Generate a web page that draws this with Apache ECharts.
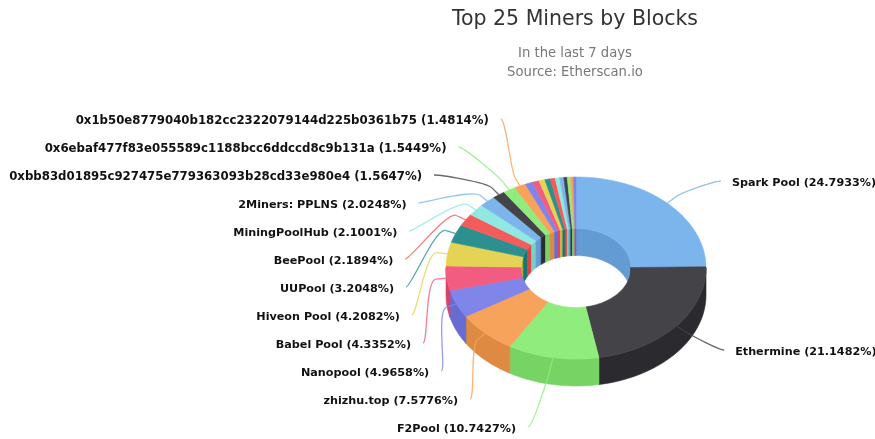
<!DOCTYPE html>
<html><head><meta charset="utf-8">
<style>html,body{margin:0;padding:0;background:#fff}#c{width:875px;height:439px;filter:blur(0.5px)}</style>
<script src="https://cdn.jsdelivr.net/npm/echarts@6/dist/echarts.min.js"></script>
</head><body><div id="c"></div>
<script>
const minerNames = ['Spark Pool','Ethermine','F2Pool','zhizhu.top','Nanopool','Babel Pool','Hiveon Pool','UUPool','BeePool','MiningPoolHub','2Miners: PPLNS','0xbb83d01895c927475e779363093b28cd33e980e4','0x6ebaf477f83e055589c1188bcc6ddccd8c9b131a','0x1b50e8779040b182cc2322079144d225b0361b75','','','','','','','','','','',''];
const minerShares = [24.7933,21.1482,10.7427,7.5776,4.9658,4.3352,4.2082,3.2048,2.1894,2.1001,2.0248,1.5647,1.5449,1.4814,1.2,1.05,0.95,0.85,0.8,0.7,0.65,0.55,0.5,0.45,0.42];
const palette = ['#7cb5ec','#434348','#90ed7d','#f7a35c','#8085e9','#f15c80','#e4d354','#2b908f','#f45b5b','#91e8e1'];

const CX=576, CY=268, RX=130, RY=91, IRX=55, IRY=39.5, DEPTH=27;
const total = minerShares.reduce((a,b)=>a+b,0);
const cum=[0]; minerShares.forEach((v,i)=>cum.push(cum[i]+v));
const rad=d=>d*Math.PI/180;
// tilt of the 3D view: slices at the front look wider than those at the back
function warp(t){
  if(t<=90) return t;
  if(t>=330) return t+6.5*(360-t)/30;
  return t+6.5*Math.min(1,(t-90)/110);
}
const pt=(u,rx,ry,dy)=>[CX+rx*Math.sin(rad(u)), CY-ry*Math.cos(rad(u))+(dy||0)];
function arc(a,b,rx,ry,dy){
  const n=Math.max(1,Math.ceil(Math.abs(b-a)/2)),out=[];
  for(let i=0;i<=n;i++) out.push(pt(a+(b-a)*i/n,rx,ry,dy));
  return out;
}
function darker(hex){
  const n=parseInt(hex.slice(1),16);
  const c=[n>>16,(n>>8)&255,n&255].map(v=>Math.max(0,Math.round(v-25.5)));
  return 'rgb('+c.join(',')+')';
}
function face(points,color,z2){
  return {type:'polygon',z2,silent:true,shape:{points},style:{fill:color,stroke:color,lineWidth:0.6}};
}
function slot(i){ return i<2 ? [183,352][i] : 429-28*(i-2); }

function renderItem(params,api){
  const i=params.dataIndex;
  const t0=cum[i]/total*360, t1=(cum[i]+api.value(0))/total*360;
  const u0=warp(t0), u1=warp(t1);
  const col=palette[i%palette.length], dark=darker(col);
  const ch=[];
  // inner wall (back half of the hole)
  [[u0,Math.min(u1,90)],[Math.max(u0,270),u1]].forEach(([a,b])=>{
    if(b>a) ch.push(face(arc(a,b,IRX,IRY).concat(arc(b,a,IRX,IRY,DEPTH)),dark,1));
  });
  // outer wall (front half)
  const wa=Math.max(u0,90), wb=Math.min(u1,270);
  if(wb>wa) ch.push(face(arc(wa,wb,RX,RY).concat(arc(wb,wa,RX,RY,DEPTH)),dark,2));
  // top face
  ch.push(face(arc(u0,u1,RX,RY).concat(arc(u1,u0,IRX,IRY)),col,3));
  // label and connector
  const name=minerNames[i];
  if(name){
    const right=i<2, y=slot(i);
    const half=Math.sqrt(Math.max(0,164*164-(y-270.2)*(y-270.2)));
    const x=right ? 593+half : 557-half;
    const lx=right? x-11 : x+12, ly=y-2;
    const um=(u0+u1)/2, T=pt(um,RX,RY), s=Math.sin(rad(um)), c=-Math.cos(rad(um));
    const B=[T[0]+s*11,T[1]+c*11*0.75];
    ch.push({type:'bezierCurve',z2:4,silent:true,
      shape:{x1:lx,y1:ly,cpx1:lx+(right?-5:5),cpy1:ly,cpx2:2*B[0]-T[0],cpy2:2*B[1]-T[1],x2:B[0],y2:B[1]},
      style:{fill:null,stroke:col,lineWidth:1.3,opacity:0.8}});
    ch.push({type:'line',z2:4,silent:true,shape:{x1:B[0],y1:B[1],x2:T[0],y2:T[1]},style:{stroke:col,lineWidth:1.3,opacity:0.8}});
    const size=name.startsWith('0x')?11.75:11.2;
    ch.push({type:'text',z2:5,silent:true,x,y,style:{
      text:name+' ('+api.value(0).toFixed(4)+'%)',
      fill:'#111',font:'bold '+size+'px "DejaVu Sans"',
      align:right?'left':'right',verticalAlign:'middle'}});
  }
  return {type:'group',children:ch};
}

const chart=echarts.init(document.getElementById('c'),null,{renderer:'canvas'});
chart.setOption({
  animation:false,
  backgroundColor:'#fff',
  title:{
    text:'Top 25 Miners by Blocks',
    subtext:'In the last 7 days\nSource: Etherscan.io',
    left:570,top:4,textAlign:'center',itemGap:14,
    textStyle:{fontFamily:'DejaVu Sans',fontSize:20.5,fontWeight:'normal',color:'#333'},
    subtextStyle:{fontFamily:'DejaVu Sans',fontSize:13.2,color:'#777',lineHeight:19}
  },
  series:[{
    type:'custom',
    coordinateSystem:'none',
    clip:false,
    renderItem,
    data:minerShares.map(v=>[v])
  }]
});
</script></body></html>
